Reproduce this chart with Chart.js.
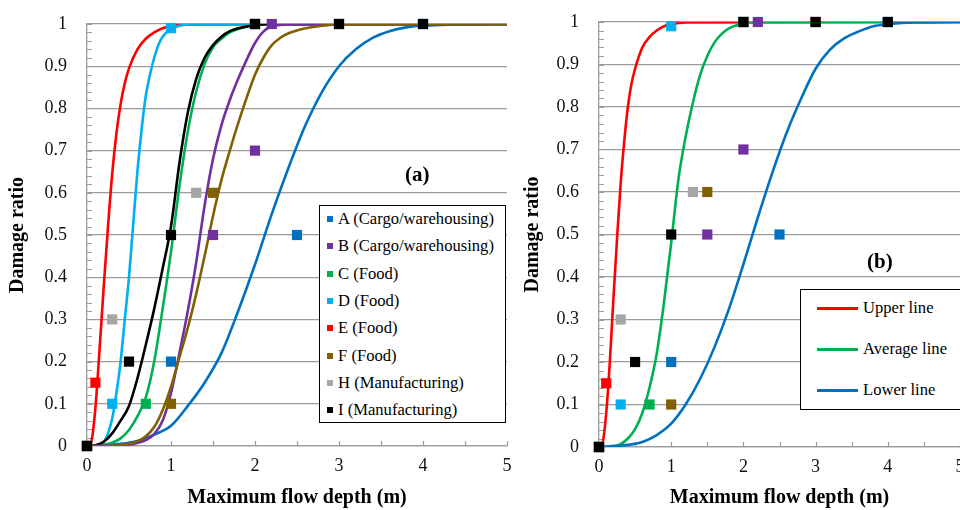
<!DOCTYPE html>
<html>
<head>
<meta charset="utf-8">
<script src="https://cdn.jsdelivr.net/npm/chart.js@4.4.1/dist/chart.umd.min.js"></script>
<style>
html, body { margin: 0; padding: 0; background: #fff; overflow: hidden; }
#wrap { position: relative; width: 960px; height: 510px; overflow: hidden; font-family: "Liberation Serif", "DejaVu Serif", serif; color: #000; }
#ca { position: absolute; left: 0; top: 0; }
#cb { position: absolute; left: 515px; top: 0; }
.box { position: absolute; border: 1.5px solid #000; background: #fff; box-sizing: border-box; }
.item { position: absolute; font-size: 16.6px; white-space: nowrap; line-height: 18px; }
.mk { position: absolute; width: 6px; height: 6px; }
.sw { position: absolute; width: 41px; height: 3px; }
.tag { position: absolute; font-weight: bold; font-size: 21px; }
</style>
</head>
<body>
<div id="wrap">
  <canvas id="ca" width="520" height="510"></canvas>
  <canvas id="cb" width="460" height="510"></canvas>
  <div id="legA" class="box" style="left:319px;top:205px;width:187px;height:218px;"></div>
  <div id="legB" class="box" style="left:800px;top:289px;width:170px;height:121px;"></div>
  <div class="tag" style="left:405px;top:162px;">(a)</div>
  <div class="tag" style="left:867px;top:249px;">(b)</div>
</div>
<script>
// series names and colours (panel a)
var seriesNames = ['A (Cargo/warehousing)', 'B (Cargo/warehousing)', 'C (Food)', 'D (Food)',
                   'E (Food)', 'F (Food)', 'H (Manufacturing)', 'I (Manufacturing)'];
var seriesColors = ['#0070C0', '#7030A0', '#00B050', '#00B0F0', '#FF0000', '#806000', '#A6A6A6', '#000000'];

// observed damage points [depth, ratio]
var ptsA = [[0, 0], [1, 0.2], [2.5, 0.5], [4, 1]];
var ptsB = [[0, 0], [1.5, 0.5], [2, 0.7], [2.2, 1]];
var ptsC = [[0, 0], [0.7, 0.1], [2, 1]];
var ptsD = [[0, 0], [0.3, 0.1], [1, 0.99], [2, 1], [3, 1], [4, 1]];
var ptsE = [[0, 0], [0.1, 0.15], [2, 1]];
var ptsF = [[0, 0], [1, 0.1], [1.5, 0.6], [3, 1]];
var ptsH = [[0, 0], [0.3, 0.3], [1.3, 0.6], [2, 1]];
var ptsI = [[0, 0], [0.5, 0.2], [1, 0.5], [2, 1], [3, 1], [4, 1]];

// fitted curves, [depth, ratio]
var curveA = [[0, 0], [0.2, 0.002], [0.4, 0.005], [0.6, 0.012], [0.8, 0.027], [1.0, 0.048], [1.2, 0.095], [1.4, 0.15],
              [1.6, 0.22], [1.8, 0.32], [2.0, 0.43], [2.2, 0.55], [2.4, 0.66], [2.6, 0.76], [2.8, 0.84], [3.0, 0.9],
              [3.2, 0.94], [3.4, 0.967], [3.6, 0.983], [3.8, 0.992], [4.0, 0.996], [4.2, 0.998], [4.4, 0.999], [5, 1]];
var curveB = [[0, 0], [0.3, 0.0005], [0.5, 0.003], [0.6, 0.007], [0.7, 0.014], [0.8, 0.028], [0.9, 0.06], [1.0, 0.125],
              [1.1, 0.22], [1.2, 0.32], [1.3, 0.435], [1.4, 0.57], [1.5, 0.68], [1.6, 0.76], [1.7, 0.82], [1.8, 0.87],
              [1.9, 0.915], [2.0, 0.955], [2.1, 0.982], [2.2, 0.994], [2.4, 0.999], [5, 1]];
var curveC = [[0, 0], [0.1, 0.0005], [0.2, 0.003], [0.3, 0.008], [0.4, 0.018], [0.5, 0.038], [0.6, 0.07], [0.7, 0.115],
              [0.8, 0.2], [0.9, 0.325], [1.0, 0.46], [1.1, 0.615], [1.2, 0.745], [1.3, 0.84], [1.4, 0.905], [1.5, 0.945],
              [1.6, 0.965], [1.7, 0.98], [1.8, 0.988], [2.0, 0.997], [2.2, 1], [5, 1]];
var curveD = [[0, 0], [0.1, 0.0005], [0.15, 0.003], [0.2, 0.01], [0.25, 0.03], [0.3, 0.065], [0.35, 0.125], [0.4, 0.2],
              [0.45, 0.3], [0.5, 0.4], [0.55, 0.525], [0.6, 0.65], [0.65, 0.75], [0.7, 0.83], [0.75, 0.88], [0.8, 0.92],
              [0.85, 0.95], [0.9, 0.97], [1.0, 0.988], [1.1, 0.996], [1.3, 1], [5, 1]];
var curveE = [[0, 0], [0.05, 0.01], [0.1, 0.09], [0.15, 0.23], [0.2, 0.38], [0.25, 0.52], [0.3, 0.645], [0.35, 0.74],
              [0.4, 0.81], [0.45, 0.86], [0.5, 0.895], [0.6, 0.94], [0.7, 0.965], [0.8, 0.98], [0.9, 0.99], [1.0, 0.995],
              [1.2, 0.999], [5, 1]];
var curveF = [[0, 0], [0.3, 0.0005], [0.4, 0.002], [0.5, 0.005], [0.6, 0.011], [0.7, 0.023], [0.8, 0.045], [0.9, 0.085],
              [1.0, 0.14], [1.1, 0.21], [1.2, 0.28], [1.3, 0.36], [1.4, 0.45], [1.5, 0.545], [1.6, 0.63], [1.7, 0.7],
              [1.8, 0.765], [1.9, 0.825], [2.0, 0.88], [2.1, 0.92], [2.2, 0.95], [2.3, 0.967], [2.4, 0.978], [2.6, 0.99],
              [2.8, 0.996], [3.0, 0.999], [5, 1]];
var curveI = [[0, 0], [0.1, 0.002], [0.2, 0.01], [0.3, 0.03], [0.4, 0.06], [0.5, 0.095], [0.6, 0.16], [0.7, 0.24],
              [0.8, 0.325], [0.9, 0.42], [1.0, 0.52], [1.1, 0.67], [1.2, 0.79], [1.3, 0.87], [1.4, 0.92], [1.5, 0.95],
              [1.6, 0.97], [1.7, 0.983], [1.8, 0.99], [2.0, 0.997], [2.2, 1], [5, 1]];

// envelope curves
var lineNames = ['Upper line', 'Average line', 'Lower line'];
var lineColors = ['#FF0000', '#00B050', '#0070C0'];
var upperLine = [[0, 0], [0.05, 0.01], [0.1, 0.08], [0.15, 0.2], [0.2, 0.35], [0.25, 0.49], [0.3, 0.62], [0.35, 0.72],
                 [0.4, 0.8], [0.45, 0.855], [0.5, 0.89], [0.6, 0.94], [0.7, 0.965], [0.8, 0.98], [0.9, 0.99], [1.0, 0.995],
                 [1.2, 0.999], [5, 1]];
var averageLine = [[0, 0], [0.1, 0.0005], [0.2, 0.002], [0.3, 0.007], [0.4, 0.02], [0.5, 0.042], [0.6, 0.08], [0.7, 0.14],
                   [0.8, 0.22], [0.9, 0.34], [1.0, 0.48], [1.1, 0.63], [1.2, 0.73], [1.3, 0.81], [1.4, 0.875], [1.5, 0.92],
                   [1.6, 0.952], [1.7, 0.972], [1.8, 0.985], [1.9, 0.992], [2.0, 0.997], [2.2, 1], [5, 1]];
var lowerLine = [[0, 0], [0.2, 0.002], [0.4, 0.005], [0.6, 0.012], [0.8, 0.028], [1.0, 0.055], [1.2, 0.1], [1.4, 0.16],
                 [1.6, 0.235], [1.8, 0.325], [2.0, 0.43], [2.2, 0.54], [2.4, 0.645], [2.6, 0.74], [2.8, 0.82], [3.0, 0.89],
                 [3.2, 0.935], [3.4, 0.962], [3.6, 0.978], [3.8, 0.99], [4.0, 0.995], [4.2, 0.998], [4.4, 0.999], [5, 1]];

var xTicks = [0, 1, 2, 3, 4, 5];
var yTicks = [0, 0.1, 0.2, 0.3, 0.4, 0.5, 0.6, 0.7, 0.8, 0.9, 1];

var FONT = '"Liberation Serif", "DejaVu Serif", serif';
var GRID = '#9c9c9c';

var toXY = function (arr) {
    return arr.map(function (p) { return { x: p[0], y: p[1] }; });
};

// small inside tick marks like the original (x every 0.5, y every 0.02)
var minorTicks = {
    id: 'minorTicks',
    beforeDatasetsDraw: function (chart) {
        var ctx = chart.ctx, xs = chart.scales.x, ys = chart.scales.y;
        var area = chart.chartArea;
        ctx.save();
        ctx.strokeStyle = GRID;
        ctx.lineWidth = 1.2;
        ctx.beginPath();
        for (var i = 0; i <= 10; i++) {
            var px = Math.round(xs.getPixelForValue(i * 0.5)) + 0.5;
            ctx.moveTo(px, area.bottom);
            ctx.lineTo(px, area.bottom - 5);
        }
        for (var j = 0; j <= 50; j++) {
            var py = Math.round(ys.getPixelForValue(j * 0.02)) + 0.5;
            ctx.moveTo(area.left, py);
            ctx.lineTo(area.left + 5, py);
        }
        ctx.stroke();
        ctx.restore();
    }
};

var curveSet = function (data, color, order) {
    return {
        type: 'line',
        data: toXY(data),
        borderColor: color,
        borderWidth: 2.6,
        pointRadius: 0,
        fill: false,
        cubicInterpolationMode: 'monotone',
        order: order
    };
};

var pointSet = function (data, color, order) {
    return {
        type: 'scatter',
        data: toXY(data),
        backgroundColor: color,
        borderColor: color,
        borderWidth: 0,
        pointStyle: 'rect',
        pointRadius: 7.2,
        clip: false,
        order: order
    };
};

var allPoints = [ptsA, ptsB, ptsC, ptsD, ptsE, ptsF, ptsH, ptsI];
var pointOrders = [8, 7, 5, 9, 6, 4, 3, 1];

// curves are listed bottom-most first
var makeChart = function (id, curves, pad, yWidth, xHeight) {
    var datasets = [];
    allPoints.forEach(function (pts, i) {
        datasets.push(pointSet(pts, seriesColors[i], pointOrders[i]));
    });
    curves.forEach(function (c, i) {
        datasets.push(curveSet(c.data, c.color, 40 - i));
    });
    return new Chart(document.getElementById(id).getContext('2d'), {
        type: 'scatter',
        data: { datasets: datasets },
        options: {
            responsive: false,
            animation: false,
            layout: { padding: pad, autoPadding: false },
            plugins: { legend: { display: false }, tooltip: { enabled: false } },
            scales: {
                x: {
                    type: 'linear', min: 0, max: 5,
                    afterBuildTicks: function (s) { s.ticks = xTicks.map(function (v) { return { value: v }; }); },
                    afterFit: function (s) { s.height = xHeight; s.paddingLeft = 0; s.paddingRight = 0; },
                    grid: { display: false, drawTicks: false },
                    border: { color: GRID, width: 1.3 },
                    ticks: { font: { family: FONT, size: 18 }, color: '#111', padding: 9, maxRotation: 0 },
                    title: { display: true, text: 'Maximum flow depth (m)', color: '#000',
                             font: { family: FONT, size: 20, weight: 'bold' }, padding: { top: 0, bottom: 0 } }
                },
                y: {
                    type: 'linear', min: 0, max: 1,
                    afterBuildTicks: function (s) { s.ticks = yTicks.map(function (v) { return { value: v }; }); },
                    afterFit: function (s) { s.width = yWidth; s.paddingTop = 0; s.paddingBottom = 0; },
                    grid: { color: GRID, lineWidth: 1.3, drawTicks: false },
                    border: { color: GRID, width: 1.3 },
                    ticks: {
                        font: { family: FONT, size: 18 }, color: '#111', padding: 20,
                        callback: function (v) { return String(Math.round(v * 10) / 10); }
                    },
                    title: { display: true, text: 'Damage ratio', color: '#000',
                             font: { family: FONT, size: 20, weight: 'bold' }, padding: { top: 0, bottom: 0 } }
                }
            }
        },
        plugins: [minorTicks]
    });
};

makeChart('ca', [
    { data: curveA, color: seriesColors[0] },
    { data: curveE, color: seriesColors[4] },
    { data: curveD, color: seriesColors[3] },
    { data: curveC, color: seriesColors[2] },
    { data: curveI, color: seriesColors[7] },
    { data: curveB, color: seriesColors[1] },
    { data: curveF, color: seriesColors[5] }
], { left: 6, top: 24, right: 13, bottom: 0 }, 81, 64);

makeChart('cb', [
    { data: upperLine, color: lineColors[0] },
    { data: averageLine, color: lineColors[1] },
    { data: lowerLine, color: lineColors[2] }
], { left: 6, top: 22, right: 15, bottom: 0 }, 78, 63);

// legend of panel (a): square markers
var legA = document.getElementById('legA');
seriesNames.forEach(function (name, i) {
    var row = document.createElement('div');
    row.className = 'item';
    row.style.left = '0px';
    row.style.top = (4 + i * 27.3) + 'px';
    row.innerHTML = '<span class="mk" style="left:7px;top:6px;background:' + seriesColors[i] + '"></span>' +
        '<span style="position:absolute;left:18px;top:0;">' + name + '</span>';
    legA.appendChild(row);
});

// legend of panel (b): line swatches
var legB = document.getElementById('legB');
lineNames.forEach(function (name, i) {
    var row = document.createElement('div');
    row.className = 'item';
    row.style.left = '0px';
    row.style.top = (9 + i * 41) + 'px';
    row.innerHTML = '<span class="sw" style="left:16px;top:8px;background:' + lineColors[i] + '"></span>' +
        '<span style="position:absolute;left:62px;top:0;">' + name + '</span>';
    legB.appendChild(row);
});
</script>
</body>
</html>
